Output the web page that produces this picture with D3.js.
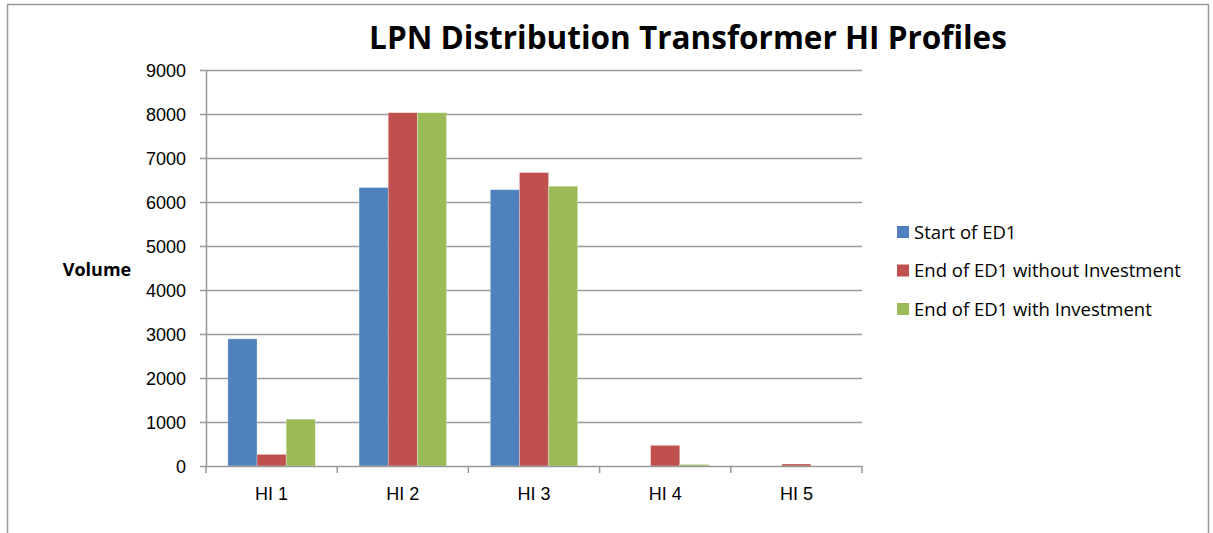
<!DOCTYPE html>
<html>
<head>
<meta charset="utf-8">
<script src="https://cdn.jsdelivr.net/npm/d3@7"></script>
<style>
  body { margin: 0; background: #fff; }
  svg { font-family: "Open Sans", Lato, sans-serif; }
</style>
</head>
<body>
<div id="chart"></div>
<script>
const categories = ['HI 1', 'HI 2', 'HI 3', 'HI 4', 'HI 5'];
const seriesNames = ['Start of ED1', 'End of ED1 without Investment', 'End of ED1 with Investment'];
const startED1 = [2890, 6330, 6280, 0, 0];
const endWithout = [265, 8030, 6670, 470, 45];
const endWith = [1065, 8030, 6360, 35, 0];
const yTicks = [0, 1000, 2000, 3000, 4000, 5000, 6000, 7000, 8000, 9000];
const colors = ['#4F81BD', '#C0504D', '#9BBB59'];

const W = 1213, H = 533;
const margin = {top: 70, left: 206, right: 351, bottom: 67};
const width = W - margin.left - margin.right;
const height = H - margin.top - margin.bottom;

const svg = d3.select('#chart').append('svg')
    .attr('width', W)
    .attr('height', H);

// chart frame
svg.append('rect')
    .attr('x', 7.5).attr('y', 4.5)
    .attr('width', 1201).attr('height', 540)
    .attr('fill', 'none')
    .attr('stroke', '#999')
    .attr('stroke-width', 1.5);

const g = svg.append('g')
    .attr('transform', `translate(${margin.left},${margin.top})`);

const x0 = d3.scaleBand()
    .domain(categories)
    .range([0, width]);

// Excel gap width 150%
const x1 = d3.scaleBand()
    .domain(d3.range(3))
    .range([0, x0.bandwidth()])
    .paddingOuter(0.75)
    .paddingInner(0);

const y = d3.scaleLinear()
    .domain([0, 9000])
    .range([height, 0]);

// gridlines
g.append('g')
    .selectAll('line')
    .data(yTicks.filter(d => d > 0))
    .enter().append('line')
    .attr('x1', 0).attr('x2', width)
    .attr('y1', d => Math.round(y(d)) + 0.5)
    .attr('y2', d => Math.round(y(d)) + 0.5)
    .attr('stroke', '#9a9a9a')
    .attr('stroke-width', 1.5);

// bars
const table = categories.map((c, i) => ({
    cat: c,
    values: [startED1[i], endWithout[i], endWith[i]]
}));

const groups = g.selectAll('.grp')
    .data(table)
    .enter().append('g')
    .attr('class', 'grp')
    .attr('transform', d => `translate(${x0(d.cat)},0)`);

groups.selectAll('rect')
    .data(d => d.values.map((v, k) => ({k, v})))
    .enter().append('rect')
    .attr('x', d => x1(d.k))
    .attr('y', d => y(d.v))
    .attr('width', x1.bandwidth())
    .attr('height', d => height - y(d.v))
    .attr('fill', d => colors[d.k])
    .attr('stroke', 'rgba(255,255,255,0.5)')
    .attr('stroke-width', 0.6);

// y axis
const yAxis = g.append('g')
    .call(d3.axisLeft(y).tickValues(yTicks).tickSize(6).tickPadding(14).tickFormat(d3.format('d')));
yAxis.select('.domain').attr('stroke', '#999').attr('stroke-width', 1.5).attr('d', `M0.5,${height}V0`);
yAxis.selectAll('.tick line').attr('stroke', '#999').attr('stroke-width', 1.5);
yAxis.selectAll('.tick text').style('font-size', '18px').attr('fill', '#000').attr('dy', '0.35em');

// x axis
const xAxis = g.append('g')
    .attr('transform', `translate(0,${height})`)
    .call(d3.axisBottom(x0).tickSize(0).tickPadding(21));
xAxis.select('.domain').attr('stroke', '#999').attr('stroke-width', 1.5);
xAxis.selectAll('.tick text').style('font-size', '18px').attr('fill', '#000');
xAxis.selectAll('.sep')
    .data(d3.range(categories.length + 1))
    .enter().append('line')
    .attr('class', 'sep')
    .attr('x1', i => i * x0.step()).attr('x2', i => i * x0.step())
    .attr('y1', 0).attr('y2', 7)
    .attr('stroke', '#999').attr('stroke-width', 1.5);

// title
svg.append('text')
    .attr('x', 688).attr('y', 49)
    .attr('text-anchor', 'middle')
    .style('font-size', '31.5px')
    .style('font-weight', 'bold')
    .text('LPN Distribution Transformer HI Profiles');

// y axis title
svg.append('text')
    .attr('x', 97).attr('y', 276)
    .attr('text-anchor', 'middle')
    .style('font-size', '18px')
    .style('font-weight', 'bold')
    .text('Volume');

// legend
const legend = svg.append('g')
    .attr('transform', 'translate(897,232)');
seriesNames.forEach((name, i) => {
    legend.append('rect')
        .attr('x', 0).attr('y', i * 38.5 - 6)
        .attr('width', 12).attr('height', 12)
        .attr('fill', colors[i]);
    legend.append('text')
        .attr('x', 17).attr('y', i * 38.5)
        .attr('dy', '0.36em')
        .style('font-size', '18.5px')
        .text(name);
});
</script>
</body>
</html>
